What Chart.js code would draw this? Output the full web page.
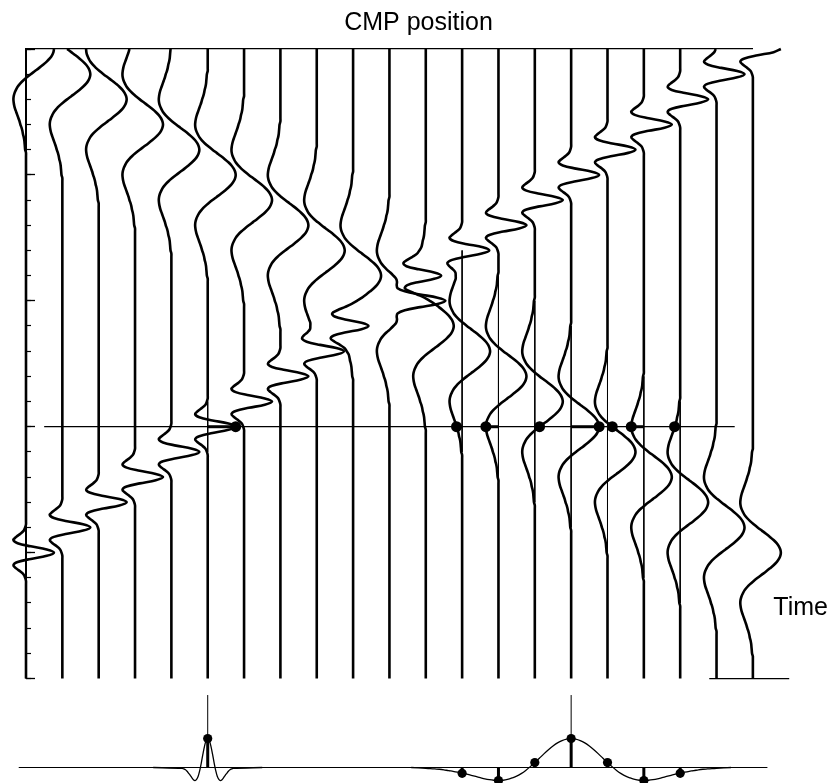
<!DOCTYPE html>
<html>
<head>
<meta charset="utf-8">
<script src="https://cdn.jsdelivr.net/npm/chart.js@4.4.1/dist/chart.umd.min.js"></script>
<style>
  html,body{margin:0;padding:0;background:#fff}
</style>
</head>
<body>
<canvas id="c" width="828" height="783"></canvas>
<script>
// CMP traces, left to right
const traces = [0,1,2,3,4,5,6,7,8,9,10,11,12,13,14,15,16,17,18,19,20]
// peak time of the broad event on each trace (dips down to the right)
const event1Time = [0,1,2,3,4,5,6,7,8,9,10,11,12,13,14,15,16,17,18,19,20]
// peak time of the sharp event on each trace (dips up to the right)
const event2Time = [20,19,18,17,16,15,14,13,12,11,10,9,8,7,6,5,4,3,2,1,0]
// half of the wavelet, peak first, one sample every 0.125 time units (broad event)
const wavelet = [1,0.98,0.93,0.85,0.74,0.61,0.47,0.32,0.17,0.03,-0.10,-0.21,-0.30,-0.36,-0.41,-0.44,
  -0.45,-0.44,-0.42,-0.39,-0.35,-0.31,-0.27,-0.23,-0.20,-0.16,-0.13,-0.11,-0.08,-0.06,-0.05,-0.04,-0.03]
const sharpSqueeze = 4

const pickTime = 15
const pickTraces = [5,12,13,14,15,16,17,18]
// traces that show their zero line while the wiggle swings away
const thinTraces = [5,12,13,14,15,16,17,18]
const thinFrom = [14,8,9,10,11,12,13,14]
const thinTo = [16,16,17,18,19,20,21,22]
const pickLine = [0.5,19.5]

const majorTicks = [0,5,10,15,20,25]
const minorTicks = [0,1,2,3,4,5,6,7,8,9,10,11,12,13,14,15,16,17,18,19,20,21,22,23,24,25]

// stack panel
const stackLine = [-0.2,20.4]
const stackMarks = [5,15]
const stackMarkHeight = 2.5

const dt = 0.125
const tEnd = 25
const tView = 28.93   // time axis runs on below the frame to make room for the stack panel
const gain = 0.77
const FONT = "'Liberation Sans', Arial, sans-serif"

function waveAt(off, squeeze){
  const k = Math.round(Math.abs(off) / dt) * squeeze
  return k < wavelet.length ? wavelet[k] : 0
}
function traceValue(i, t){
  return waveAt(t - event1Time[i], 1) + waveAt(t - event2Time[i], sharpSqueeze)
}

function line(data, width, extra){
  return Object.assign({data, borderColor:'#000', borderWidth:width, pointRadius:0,
    tension:0, fill:false, clip:false, yAxisID:'y'}, extra || {})
}

const datasets = []

// picked samples on the time line
const pickAmp = pickTraces.map(i => traceValue(i, pickTime))
datasets.push({data: pickTraces.map((i,k) => ({x: i + gain*pickAmp[k], y: pickTime})),
  showLine:false, pointRadius:5.5, pointBackgroundColor:'#000', pointBorderWidth:0, clip:false, yAxisID:'y'})
pickTraces.forEach((i,k) => {
  datasets.push(line([{x:i, y:pickTime},{x:i + gain*pickAmp[k], y:pickTime}], 3))
})
datasets.push(line([{x:pickLine[0], y:pickTime},{x:pickLine[1], y:pickTime}], 1.2))

// wiggle traces
traces.forEach(i => {
  const pts = []
  for (let k = 0; k <= tEnd/dt; k++){
    const t = k*dt
    pts.push({x: i + gain*traceValue(i, t), y: t})
  }
  datasets.push(line(pts, 2.6, {tension:0.35}))
})

// zero lines
thinTraces.forEach((i,k) => {
  datasets.push(line([{x:i, y:thinFrom[k]},{x:i, y:thinTo[k]}], 1))
})

// left side of the frame and the small piece of its bottom
datasets.push(line([{x:0, y:0},{x:0, y:tEnd}], 2))
datasets.push(line([{x:18.8, y:tEnd},{x:21, y:tEnd}], 1.2))

// ---- stack panel ----
function stackCurve(center, dx, squeeze, reach){
  const pts = [{x:center - reach, y:0}]
  const K = Math.floor((wavelet.length - 1) / squeeze)
  for (let k = -K; k <= K; k++) pts.push({x:center + k*dx, y:wavelet[Math.abs(k)*squeeze]})
  pts.push({x:center + reach, y:0})
  return pts
}
datasets.push({data: pickTraces.map((i,k) => ({x:i, y:pickAmp[k]})), showLine:false, pointRadius:4.6,
  pointBackgroundColor:'#000', pointBorderWidth:0, clip:false, yAxisID:'yStack'})
pickTraces.forEach((i,k) => {
  datasets.push(line([{x:i, y:0},{x:i, y:pickAmp[k]}], 3, {yAxisID:'yStack'}))
})
stackMarks.forEach(i => {
  datasets.push(line([{x:i, y:0},{x:i, y:stackMarkHeight}], 1, {yAxisID:'yStack'}))
})
datasets.push(line(stackCurve(5, 0.04375, 2, 1.5), 1.3, {yAxisID:'yStack', tension:0.3}))
datasets.push(line(stackCurve(15, 0.125, 1, 4.4), 1.3, {yAxisID:'yStack', tension:0.3}))
datasets.push(line([{x:stackLine[0], y:0},{x:stackLine[1], y:0}], 1.2, {yAxisID:'yStack'}))

new Chart(document.getElementById('c'), {
  type:'line',
  data:{datasets},
  options:{
    responsive:false,
    animation:false,
    events:[],
    layout:{padding:{left:26, top:-3, right:0, bottom:0}},
    plugins:{legend:{display:false}, tooltip:{enabled:false}},
    scales:{
      x:{type:'linear', position:'top', min:0, max:20,
        grid:{drawOnChartArea:false, drawTicks:false},
        border:{display:true, color:'#000', width:1.3},
        ticks:{padding:11, maxRotation:0, color:'#000', font:{family:FONT, size:25},
          callback:() => 'CMP position'},
        afterBuildTicks:s => { s.ticks = [{value:10.8}] }},
      y:{type:'linear', axis:'y', position:{x:0}, min:0, max:tView, reverse:true,
        grid:{drawOnChartArea:false, drawTicks:true, tickLength:-9, tickWidth:1.3, tickColor:'#000'},
        border:{display:false},
        ticks:{display:false},
        afterBuildTicks:s => { s.ticks = majorTicks.map(v => ({value:v})) }},
      yMinor:{type:'linear', axis:'y', position:{x:0}, min:0, max:tView, reverse:true,
        grid:{drawOnChartArea:false, drawTicks:true, tickLength:-5, tickWidth:1.2, tickColor:'#000'},
        border:{display:false},
        ticks:{display:false},
        afterBuildTicks:s => { s.ticks = minorTicks.map(v => ({value:v})) }},
      // "Time" caption: the invisible tick mark gives the gap to the frame
      yTime:{type:'linear', axis:'y', position:'right', min:0, max:tView, reverse:true,
        grid:{display:true, drawOnChartArea:false, drawTicks:true, tickLength:20.5, tickColor:'rgba(0,0,0,0)'},
        border:{display:false},
        ticks:{padding:0, color:'#000', font:{family:FONT, size:25}, callback:() => 'Time'},
        afterBuildTicks:s => { s.ticks = [{value:22.2}] },
        afterFit:s => { s.paddingTop = 0; s.paddingBottom = 0 }},
      yStack:{type:'linear', axis:'y', display:false, min:-0.345, max:24.79}
    }
  }
})
</script>
</body>
</html>
